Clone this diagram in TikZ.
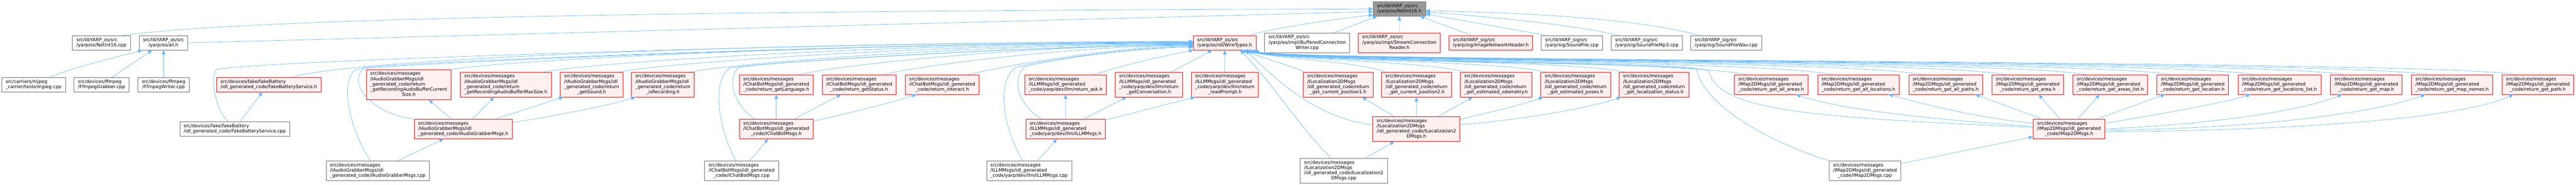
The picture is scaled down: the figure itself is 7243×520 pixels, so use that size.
\documentclass[tikz,border=0pt]{standalone}
\usepackage{fontspec}
\newfontfamily\dejavu{DejaVu Sans}
\usetikzlibrary{arrows.meta}
\definecolor{edgeblue}{HTML}{63B8FF}
\definecolor{redfill}{HTML}{FFF0F0}
\definecolor{rootfill}{HTML}{999999}
\definecolor{boxgray}{HTML}{707070}
\newcommand{\flab}[2]{\begin{tabular}{@{}l@{}}#1\\\multicolumn{1}{@{}c@{}}{#2}\end{tabular}}
\begin{document}
\begin{tikzpicture}[x=1pt,y=-1pt]
  \tikzset{file style/.style = {draw=boxgray, fill=white, line width=1pt, inner xsep=11pt, inner ysep=5.4pt, font=\dejavu\fontsize{12.9}{14.7}\selectfont},
    red style/.style = {file style, draw=red, fill=redfill},
    root style/.style = {file style, fill=rootfill},
    inc edge/.style = {draw=edgeblue, line width=1pt, -{Triangle[length=12pt,width=10pt]}}}
  \useasboundingbox (0,0) rectangle (7243,520);

  \node[root style] (root) at (3934.5,25) {\flab{src/libYARP\_os/src}{/yarp/os/NetInt16.h}};

  \node[file style] (ni16cpp) at (285.1,120.4) {\flab{src/libYARP\_os/src}{/yarp/os/NetInt16.cpp}};
  \node[file style] (allh) at (459.7,120.4) {\flab{src/libYARP\_os/src}{/yarp/os/all.h}};
  \node[red style] (wire) at (3443.5,120.4) {\flab{src/libYARP\_os/src}{/yarp/os/idl/WireTypes.h}};
  \node[file style] (bcw) at (3675.4,120.4) {\flab{src/libYARP\_os/src\\/yarp/os/impl/BufferedConnection}{Writer.cpp}};
  \node[red style] (scr) at (3934.6,120.4) {\flab{src/libYARP\_os/src\\/yarp/os/impl/StreamConnection}{Reader.h}};
  \node[red style] (inh) at (4191.8,120.4) {\flab{src/libYARP\_sig/src}{/yarp/sig/ImageNetworkHeader.h}};
  \node[file style] (sf) at (4419.8,120.4) {\flab{src/libYARP\_sig/src}{/yarp/sig/SoundFile.cpp}};
  \node[file style] (sfmp3) at (4630.5,120.4) {\flab{src/libYARP\_sig/src}{/yarp/sig/SoundFileMp3.cpp}};
  \node[file style] (sfwav) at (4853.2,120.4) {\flab{src/libYARP\_sig/src}{/yarp/sig/SoundFileWav.cpp}};

  \node[file style] (mjpeg) at (94.5,237.8) {\flab{src/carriers/mjpeg}{\_carrier/tests/mjpeg.cpp}};
  \node[file style] (ffgrab) at (285.5,237.8) {\flab{src/devices/ffmpeg}{/FfmpegGrabber.cpp}};
  \node[file style] (ffwrite) at (460,237.8) {\flab{src/devices/ffmpeg}{/FfmpegWriter.cpp}};
  \node[red style] (fbh) at (756,237.8) {\flab{src/devices/fake/fakeBattery}{/idl\_generated\_code/FakeBatteryService.h}};
  \node[red style] (agCur) at (1149.3,237.8) {\flab{src/devices/messages\\/IAudioGrabberMsgs/idl\\\_generated\_code/return\\\_getRecordingAudioBufferCurrent}{Size.h}};
  \node[red style] (agMax) at (1422.4,237.8) {\flab{src/devices/messages\\/IAudioGrabberMsgs/idl\\\_generated\_code/return}{\_getRecordingAudioBufferMaxSize.h}};
  \node[red style] (agSnd) at (1663.6,237.8) {\flab{src/devices/messages\\/IAudioGrabberMsgs/idl\\\_generated\_code/return}{\_getSound.h}};
  \node[red style] (agRec) at (1863.8,237.8) {\flab{src/devices/messages\\/IAudioGrabberMsgs/idl\\\_generated\_code/return}{\_isRecording.h}};
  \node[red style] (cbLang) at (2182.6,237.8) {\flab{src/devices/messages\\/IChatBotMsgs/idl\_generated}{\_code/return\_getLanguage.h}};
  \node[red style] (cbStat) at (2415.9,237.8) {\flab{src/devices/messages\\/IChatBotMsgs/idl\_generated}{\_code/return\_getStatus.h}};
  \node[red style] (cbInt) at (2649.2,237.8) {\flab{src/devices/messages\\/IChatBotMsgs/idl\_generated}{\_code/return\_interact.h}};
  \node[red style] (llAsk) at (2996.1,237.8) {\flab{src/devices/messages\\/ILLMMsgs/idl\_generated}{\_code/yarp/dev/llm/return\_ask.h}};
  \node[red style] (llConv) at (3230.3,237.8) {\flab{src/devices/messages\\/ILLMMsgs/idl\_generated\\\_code/yarp/dev/llm/return}{\_getConversation.h}};
  \node[red style] (llRead) at (3443.9,237.8) {\flab{src/devices/messages\\/ILLMMsgs/idl\_generated\\\_code/yarp/dev/llm/return}{\_readPrompt.h}};
  \node[red style] (lcPos1) at (3762.7,237.8) {\flab{src/devices/messages\\/ILocalization2DMsgs\\/idl\_generated\_code/return}{\_get\_current\_position1.h}};
  \node[red style] (lcPos2) at (3982.6,237.8) {\flab{src/devices/messages\\/ILocalization2DMsgs\\/idl\_generated\_code/return}{\_get\_current\_position2.h}};
  \node[red style] (lcOdom) at (4206.6,237.8) {\flab{src/devices/messages\\/ILocalization2DMsgs\\/idl\_generated\_code/return}{\_get\_estimated\_odometry.h}};
  \node[red style] (lcPoses) at (4430.5,237.8) {\flab{src/devices/messages\\/ILocalization2DMsgs\\/idl\_generated\_code/return}{\_get\_estimated\_poses.h}};
  \node[red style] (lcStat) at (4650.7,237.8) {\flab{src/devices/messages\\/ILocalization2DMsgs\\/idl\_generated\_code/return}{\_get\_localization\_status.h}};
  \node[red style] (mpAreas) at (4980,237.8) {\flab{src/devices/messages\\/IMap2DMsgs/idl\_generated}{\_code/return\_get\_all\_areas.h}};
  \node[red style] (mpLocs) at (5225.2,237.8) {\flab{src/devices/messages\\/IMap2DMsgs/idl\_generated}{\_code/return\_get\_all\_locations.h}};
  \node[red style] (mpPaths) at (5470.6,237.8) {\flab{src/devices/messages\\/IMap2DMsgs/idl\_generated}{\_code/return\_get\_all\_paths.h}};
  \node[red style] (mpArea) at (5701.3,237.8) {\flab{src/devices/messages\\/IMap2DMsgs/idl\_generated}{\_code/return\_get\_area.h}};
  \node[red style] (mpAreaL) at (5933.5,237.8) {\flab{src/devices/messages\\/IMap2DMsgs/idl\_generated}{\_code/return\_get\_areas\_list.h}};
  \node[red style] (mpLoc) at (6165.3,237.8) {\flab{src/devices/messages\\/IMap2DMsgs/idl\_generated}{\_code/return\_get\_location.h}};
  \node[red style] (mpLocL) at (6409.3,237.8) {\flab{src/devices/messages\\/IMap2DMsgs/idl\_generated}{\_code/return\_get\_locations\_list.h}};
  \node[red style] (mpMap) at (6653.2,237.8) {\flab{src/devices/messages\\/IMap2DMsgs/idl\_generated}{\_code/return\_get\_map.h}};
  \node[red style] (mpNames) at (6894.5,237.8) {\flab{src/devices/messages\\/IMap2DMsgs/idl\_generated}{\_code/return\_get\_map\_names.h}};
  \node[red style] (mpPath) at (7135.7,237.8) {\flab{src/devices/messages\\/IMap2DMsgs/idl\_generated}{\_code/return\_get\_path.h}};

  \node[file style] (fbcpp) at (660,362.5) {\flab{src/devices/fake/fakeBattery}{/idl\_generated\_code/FakeBatteryService.cpp}};
  \node[red style] (agh) at (1302.4,362.5) {\flab{src/devices/messages\\/IAudioGrabberMsgs/idl}{\_generated\_code/IAudioGrabberMsgs.h}};
  \node[red style] (cbh) at (2182.6,362.5) {\flab{src/devices/messages\\/IChatBotMsgs/idl\_generated}{\_code/IChatBotMsgs.h}};
  \node[red style] (llh) at (2995.9,362.5) {\flab{src/devices/messages\\/ILLMMsgs/idl\_generated}{\_code/yarp/dev/llm/ILLMMsgs.h}};
  \node[red style] (lch) at (3982.5,362.5) {\flab{src/devices/messages\\/ILocalization2DMsgs\\/idl\_generated\_code/ILocalization2}{DMsgs.h}};
  \node[red style] (mph) at (5817.2,362.5) {\flab{src/devices/messages\\/IMap2DMsgs/idl\_generated}{\_code/IMap2DMsgs.h}};

  \node[file style] (agcpp) at (1062.4,480) {\flab{src/devices/messages\\/IAudioGrabberMsgs/idl}{\_generated\_code/IAudioGrabberMsgs.cpp}};
  \node[file style] (cbcpp) at (2085.1,480) {\flab{src/devices/messages\\/IChatBotMsgs/idl\_generated}{\_code/IChatBotMsgs.cpp}};
  \node[file style] (llcpp) at (2893.4,480) {\flab{src/devices/messages\\/ILLMMsgs/idl\_generated}{\_code/yarp/dev/llm/ILLMMsgs.cpp}};
  \node[file style] (lccpp) at (3778.4,480) {\flab{src/devices/messages\\/ILocalization2DMsgs\\/idl\_generated\_code/ILocalization2}{DMsgs.cpp}};
  \node[file style] (mpcpp) at (5243.7,480) {\flab{src/devices/messages\\/IMap2DMsgs/idl\_generated}{\_code/IMap2DMsgs.cpp}};

  \draw[inc edge] ([xshift=59pt]ni16cpp.north) .. controls (700,50) and (2000,30) .. (root.west);
  \draw[inc edge] (allh.east) -- (root.186);
  \draw[inc edge] ([xshift=70pt]wire.north) .. controls (3550,84) and (3760,52) .. (root.193);
  \draw[inc edge] ([xshift=74pt]bcw.north) -- ([xshift=-62pt]root.south);
  \draw[inc edge] (scr) -- (root);
  \draw[inc edge] ([xshift=-53pt]inh.north) -- ([xshift=58pt]root.south);
  \draw[inc edge] ([xshift=-68pt]sf.north) -- (root.-11);
  \draw[inc edge] ([xshift=-76pt]sfmp3.north) .. controls (4400,65) and (4130,42) .. (root.-7);
  \draw[inc edge] ([xshift=-74pt]sfwav.north) .. controls (4600,50) and (4258,35) .. (root.-4);

  \draw[inc edge] ([xshift=44pt]mjpeg.north) .. controls (220,185) and (330,160) .. ([xshift=10pt]allh.south west);
  \draw[inc edge] ([xshift=29pt]ffgrab.north) -- ([xshift=-32pt]allh.south);
  \draw[inc edge] (ffwrite) -- (allh);

  \draw[inc edge] ([xshift=15pt]fbcpp.north) -- ([xshift=-18pt]fbh.south);
  \draw[inc edge] ([xshift=-18pt]fbcpp.north) .. controls (612,318) and (588,228) .. (608,196) .. controls (640,175) and (2300,118) .. ([yshift=4pt]wire.west);
  \draw[inc edge] ([xshift=64pt]fbh.north) .. controls (1020,158) and (2355,117) .. ([yshift=3pt]wire.west);

  \draw[inc edge] ([xshift=56pt]agcpp.north) -- ([xshift=-55pt]agh.south);
  \draw[inc edge] ([xshift=-20pt]agcpp.north) .. controls (990,380) and (950,232) .. (1000,196) .. controls (1060,180) and (2500,118) .. ([yshift=2pt]wire.west);
  \draw[inc edge] (agh.north west) .. controls (1050,320) and (975,240) .. (1022,191) .. controls (1080,176) and (2500,119) .. ([yshift=1pt]wire.west);
  \draw[inc edge] ([xshift=-33pt]agh.north) -- ([xshift=56pt]agCur.south);
  \draw[inc edge] ([xshift=26pt]agh.north) -- ([xshift=-33pt]agMax.south);
  \draw[inc edge] ([xshift=91pt]agh.north) -- ([xshift=-80pt]agSnd.south);
  \draw[inc edge] ([yshift=18pt]agh.east) .. controls (1560,325) and (1700,300) .. ([xshift=-77pt]agRec.south);
  \draw[inc edge] (agCur.north east) .. controls (1450,165) and (2500,119) .. (wire.west);
  \draw[inc edge] ([xshift=106pt]agMax.north) .. controls (1700,170) and (2600,120) .. ([yshift=-1pt]wire.west);
  \draw[inc edge] ([xshift=76pt]agSnd.north) .. controls (1900,172) and (2700,122) .. ([yshift=-2pt]wire.west);
  \draw[inc edge] ([xshift=78pt]agRec.north) .. controls (2100,172) and (2800,124) .. ([yshift=-3pt]wire.west);

  \draw[inc edge] ([xshift=23pt]cbcpp.north) -- ([xshift=-23pt]cbh.south);
  \draw[inc edge] ([xshift=-16pt]cbcpp.north) .. controls (2020,360) and (2000,232) .. (2050,192) .. controls (2100,176) and (2950,128) .. ([yshift=-4pt]wire.west);
  \draw[inc edge] ([xshift=-60pt]cbh.north) .. controls (2070,300) and (2040,230) .. (2075,190) .. controls (2120,176) and (2950,128) .. ([yshift=-5pt]wire.west);
  \draw[inc edge] (cbh) -- (cbLang);
  \draw[inc edge] ([xshift=50pt]cbh.north) -- ([xshift=-51pt]cbStat.south);
  \draw[inc edge] ([yshift=22pt]cbh.east) .. controls (2400,315) and (2500,290) .. ([xshift=-72pt]cbInt.south);
  \draw[inc edge] ([xshift=64pt]cbLang.north) .. controls (2400,175) and (2950,126) .. ([yshift=-6pt]wire.west);
  \draw[inc edge] ([xshift=66pt]cbStat.north) .. controls (2620,178) and (3050,128) .. ([yshift=-7pt]wire.west);
  \draw[inc edge] ([xshift=72pt]cbInt.north) .. controls (2850,180) and (3150,130) .. ([yshift=-8pt]wire.west);

  \draw[inc edge] ([xshift=24pt]llcpp.north) -- ([xshift=-24pt]llh.south);
  \draw[inc edge] ([xshift=-17pt]llcpp.north) .. controls (2820,360) and (2800,232) .. (2855,190) .. controls (2900,176) and (3150,135) .. ([yshift=-10pt]wire.west);
  \draw[inc edge] ([xshift=-67pt]llh.north) .. controls (2870,300) and (2840,230) .. (2880,188) .. controls (2920,175) and (3150,136) .. ([yshift=-12pt]wire.west);
  \draw[inc edge] (llh) -- (llAsk);
  \draw[inc edge] ([xshift=51pt]llh.north) -- ([xshift=-63pt]llConv.south);
  \draw[inc edge] ([yshift=25pt]llh.east) -- ([xshift=-84pt]llRead.south);
  \draw[inc edge] ([xshift=80pt]llAsk.north) .. controls (3160,182) and (3260,160) .. (wire.south west);
  \draw[inc edge] ([xshift=63pt]llConv.north) -- ([xshift=-35pt]wire.south);
  \draw[inc edge] (llRead) -- (wire);

  \draw[inc edge] ([xshift=60pt]lccpp.north) -- ([xshift=-62pt]lch.south);
  \draw[inc edge] ([xshift=-36pt]lccpp.north) .. controls (3640,340) and (3575,230) .. ([xshift=43pt]wire.south);
  \draw[inc edge] ([yshift=11pt]lch.west) .. controls (3700,330) and (3595,230) .. ([xshift=58pt]wire.south);
  \draw[inc edge] ([xshift=-62pt]lch.north) -- ([xshift=67pt]lcPos1.south);
  \draw[inc edge] (lch) -- (lcPos2);
  \draw[inc edge] ([xshift=61pt]lch.north) -- ([xshift=-66pt]lcOdom.south);
  \draw[inc edge] ([yshift=27pt]lch.east) .. controls (4170,320) and (4280,295) .. ([xshift=-92pt]lcPoses.south);
  \draw[inc edge] ([yshift=12pt]lch.east) .. controls (4300,335) and (4480,300) .. ([xshift=-93pt]lcStat.south);
  \draw[inc edge] ([xshift=-95pt]lcPos1.north) .. controls (3630,185) and (3560,165) .. ([xshift=48pt]wire.south);
  \draw[inc edge] ([xshift=-87pt]lcPos2.north) .. controls (3820,172) and (3600,168) .. ([xshift=52pt]wire.south);
  \draw[inc edge] ([xshift=-87pt]lcOdom.north) .. controls (4000,170) and (3600,170) .. ([xshift=56pt]wire.south);
  \draw[inc edge] ([xshift=-85pt]lcPoses.north) .. controls (4200,168) and (3600,172) .. ([xshift=62pt]wire.south);
  \draw[inc edge] ([xshift=-83pt]lcStat.north) .. controls (4420,168) and (3600,172) .. ([xshift=64pt]wire.south);

  \draw[inc edge] ([yshift=20pt]mpcpp.east) -- ([yshift=-22pt]mph.west);
  \draw[inc edge] (mpcpp.north west) .. controls (4950,390) and (4790,290) .. (4770,195) .. controls (4755,172) and (3600,176) .. ([xshift=76pt]wire.south);
  \draw[inc edge] ([yshift=4pt]mph.west) .. controls (5150,330) and (4830,320) .. (4805,200) .. controls (4795,175) and (3600,176) .. ([xshift=74pt]wire.south);
  \draw[inc edge] ([yshift=7pt]mph.west) .. controls (5350,330) and (5150,300) .. ([xshift=70pt]mpAreas.south);
  \draw[inc edge] ([yshift=16pt]mph.west) .. controls (5550,330) and (5400,290) .. ([xshift=85pt]mpLocs.south);
  \draw[inc edge] ([xshift=-75pt]mph.north) -- ([xshift=83pt]mpPaths.south);
  \draw[inc edge] ([xshift=-25pt]mph.north) -- ([xshift=31pt]mpArea.south);
  \draw[inc edge] ([xshift=25pt]mph.north) -- ([xshift=-30pt]mpAreaL.south);
  \draw[inc edge] ([xshift=77pt]mph.north) -- ([xshift=-78pt]mpLoc.south);
  \draw[inc edge] ([yshift=16pt]mph.east) .. controls (6050,325) and (6250,290) .. ([xshift=-81pt]mpLocL.south);
  \draw[inc edge] (mph.east) .. controls (6300,345) and (6500,300) .. ([xshift=-68pt]mpMap.south);
  \draw[inc edge] ([yshift=-4pt]mph.east) .. controls (6400,360) and (6700,310) .. ([xshift=-76pt]mpNames.south);
  \draw[inc edge] ([yshift=-8pt]mph.east) .. controls (6600,365) and (6950,320) .. ([xshift=-69pt]mpPath.south);

  \draw[inc edge] ([xshift=-69pt]mpAreas.north) .. controls (4711,168) and (3600,174) .. ([xshift=66pt]wire.south);
  \draw[inc edge] ([xshift=-71pt]mpLocs.north) .. controls (4954,168) and (3600,174) .. ([xshift=68pt]wire.south);
  \draw[inc edge] ([xshift=-66pt]mpPaths.north) .. controls (5205,168) and (3600,174) .. ([xshift=70pt]wire.south);
  \draw[inc edge] ([xshift=-64pt]mpArea.north) .. controls (5437,168) and (3600,174) .. ([xshift=72pt]wire.south);
  \draw[inc edge] ([xshift=-67pt]mpAreaL.north) .. controls (5667,168) and (3600,174) .. ([xshift=74pt]wire.south);
  \draw[inc edge] ([xshift=-62pt]mpLoc.north) .. controls (5903,168) and (3600,174) .. ([xshift=76pt]wire.south);
  \draw[inc edge] ([xshift=-71pt]mpLocL.north) .. controls (6138,168) and (3600,174) .. ([xshift=78pt]wire.south);
  \draw[inc edge] ([xshift=-62pt]mpMap.north) .. controls (6391,168) and (3600,174) .. ([xshift=80pt]wire.south);
  \draw[inc edge] ([xshift=-70pt]mpNames.north) .. controls (6624,168) and (3600,174) .. ([xshift=82pt]wire.south);
  \draw[inc edge] ([xshift=-63pt]mpPath.north) .. controls (6873,168) and (3600,174) .. ([xshift=84pt]wire.south);
\end{tikzpicture}
\end{document}
